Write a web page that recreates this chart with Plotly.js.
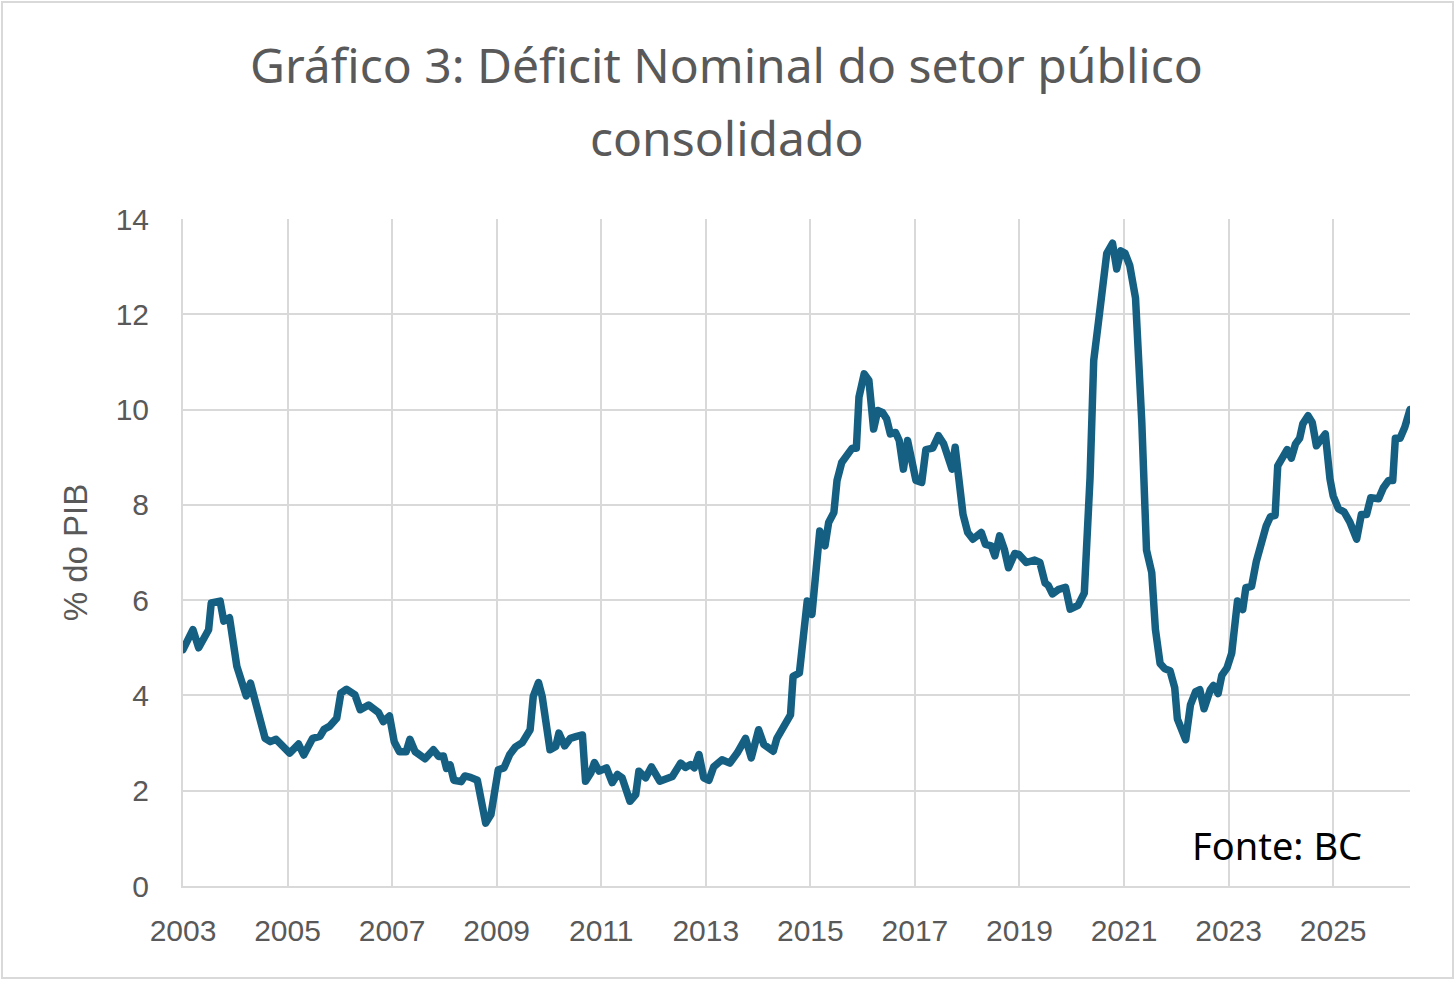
<!DOCTYPE html>
<html>
<head>
<meta charset="utf-8">
<script src="https://cdn.plot.ly/plotly-3.0.1.min.js"></script>
<style>
    html, body { margin: 0; padding: 0; background: #ffffff; }
    #moldura { position: relative; width: 1456px; height: 981px; }
    #moldura::after {
        content: ""; position: absolute; left: 1px; top: 1px; right: 2px; bottom: 2px;
        border: 2px solid #d9d9d9; pointer-events: none;
    }
    #grafico { width: 1456px; height: 981px; }
    .js-line { stroke-linejoin: round; stroke-linecap: round; }
</style>
</head>
<body>
<div id="moldura"><div id="grafico"></div></div>
<script>
// Déficit nominal do setor público consolidado (% do PIB)
const anos = [
    2003.00, 2003.19, 2003.30, 2003.49, 2003.54, 2003.71, 2003.78, 2003.89,
    2004.03, 2004.21, 2004.29, 2004.57, 2004.67, 2004.78,
    2005.04, 2005.21, 2005.31, 2005.48, 2005.62, 2005.70, 2005.80, 2005.94,
    2006.02, 2006.13, 2006.29, 2006.39, 2006.55, 2006.74, 2006.83, 2006.95,
    2007.04, 2007.14, 2007.27, 2007.34, 2007.44, 2007.63, 2007.79, 2007.89, 2007.98,
    2008.04, 2008.11, 2008.18, 2008.32, 2008.39, 2008.50, 2008.63, 2008.79, 2008.89,
    2009.03, 2009.14, 2009.25, 2009.36, 2009.49, 2009.64, 2009.70, 2009.80, 2009.87,
    2010.02, 2010.13, 2010.19, 2010.30, 2010.41, 2010.53, 2010.64, 2010.70, 2010.80, 2010.87, 2010.96,
    2011.10, 2011.21, 2011.31, 2011.40, 2011.55, 2011.66, 2011.72, 2011.85, 2011.96,
    2012.12, 2012.36, 2012.52, 2012.61, 2012.71, 2012.78, 2012.87, 2012.96,
    2013.06, 2013.15, 2013.31, 2013.46, 2013.60, 2013.76, 2013.87,
    2014.01, 2014.11, 2014.29, 2014.36, 2014.62, 2014.67, 2014.79, 2014.94,
    2015.03, 2015.18, 2015.28, 2015.35, 2015.45, 2015.51, 2015.60, 2015.71, 2015.80, 2015.88, 2015.93,
    2016.03, 2016.12, 2016.21, 2016.29, 2016.38, 2016.46, 2016.53, 2016.63, 2016.70, 2016.78, 2016.86, 2016.92,
    2017.02, 2017.13, 2017.21, 2017.34, 2017.45, 2017.55, 2017.63, 2017.71, 2017.77, 2017.85, 2017.92,
    2018.01, 2018.11, 2018.27, 2018.35, 2018.46, 2018.53, 2018.62, 2018.71, 2018.79, 2018.91, 2018.99,
    2019.13, 2019.29, 2019.39, 2019.49, 2019.55, 2019.63, 2019.74, 2019.88, 2019.97,
    2020.12, 2020.24, 2020.35, 2020.42, 2020.51, 2020.67, 2020.78, 2020.86, 2020.94,
    2021.02, 2021.11, 2021.22, 2021.34, 2021.43, 2021.53, 2021.60, 2021.69, 2021.78, 2021.88, 2021.97,
    2022.02, 2022.18, 2022.27, 2022.37, 2022.45, 2022.53, 2022.65, 2022.71, 2022.80, 2022.87, 2022.97,
    2023.06, 2023.17, 2023.27, 2023.33, 2023.44, 2023.53, 2023.62, 2023.72, 2023.80, 2023.89, 2023.94,
    2024.02, 2024.12, 2024.20, 2024.28, 2024.36, 2024.42, 2024.52, 2024.60, 2024.68, 2024.76, 2024.85, 2024.94,
    2025.00, 2025.10, 2025.21, 2025.32, 2025.38, 2025.45, 2025.54, 2025.64, 2025.72, 2025.87, 2025.96,
    2026.06, 2026.14, 2026.19, 2026.28, 2026.37, 2026.47
];

const deficit = [
    4.96, 5.38, 5.00, 5.38, 5.94, 5.98, 5.56, 5.63,
    4.61, 3.99, 4.26, 3.10, 3.03, 3.08,
    2.79, 2.98, 2.75, 3.10, 3.14, 3.29, 3.35, 3.52,
    4.05, 4.13, 4.01, 3.70, 3.80, 3.64, 3.45, 3.57,
    3.03, 2.82, 2.82, 3.08, 2.82, 2.67, 2.86, 2.72, 2.73,
    2.47, 2.54, 2.22, 2.19, 2.31, 2.28, 2.22, 1.32, 1.50,
    2.44, 2.48, 2.76, 2.92, 3.01, 3.28, 3.98, 4.27, 3.98,
    2.86, 2.93, 3.21, 2.94, 3.10, 3.14, 3.17, 2.20, 2.37, 2.59, 2.41,
    2.48, 2.17, 2.34, 2.27, 1.78, 1.92, 2.41, 2.27, 2.50,
    2.20, 2.30, 2.58, 2.49, 2.55, 2.48, 2.76, 2.27,
    2.22, 2.50, 2.65, 2.58, 2.79, 3.10, 2.69,
    3.28, 2.97, 2.83, 3.10, 3.59, 4.40, 4.47, 5.98,
    5.70, 7.45, 7.14, 7.63, 7.84, 8.51, 8.89, 9.03, 9.19, 9.19, 10.26,
    10.75, 10.61, 9.59, 9.98, 9.94, 9.80, 9.49, 9.52, 9.35, 8.75, 9.35, 9.03,
    8.51, 8.47, 9.16, 9.19, 9.45, 9.28, 8.96, 8.75, 9.21, 8.40, 7.80,
    7.42, 7.28, 7.42, 7.17, 7.14, 6.93, 7.35, 7.07, 6.68, 6.98, 6.96,
    6.79, 6.84, 6.79, 6.36, 6.31, 6.13, 6.22, 6.27, 5.81,
    5.89, 6.15, 8.57, 11.03, 11.83, 13.28, 13.49, 12.95, 13.33,
    13.28, 13.02, 12.34, 9.73, 7.05, 6.58, 5.39, 4.67, 4.56, 4.52, 4.16,
    3.51, 3.07, 3.80, 4.08, 4.12, 3.72, 4.12, 4.21, 4.04, 4.42, 4.58,
    4.89, 5.98, 5.80, 6.26, 6.29, 6.81, 7.25, 7.56, 7.75, 7.78, 8.82,
    9.00, 9.16, 8.98, 9.28, 9.40, 9.70, 9.87, 9.73, 9.24, 9.35, 9.49, 8.54,
    8.19, 7.92, 7.85, 7.64, 7.49, 7.28, 7.80, 7.80, 8.15, 8.13, 8.36,
    8.51, 8.51, 9.40, 9.40, 9.63, 10.00
];

const tituloLinhas = ['Gráfico 3: Déficit Nominal do setor público', 'consolidado'];
const fonte = 'Fonte: BC';

const corLinha = '#156082';
const corGrade = '#d9d9d9';
const corTexto = '#595959';
const fonteTitulo = 'Noto Sans, Open Sans, sans-serif';
const fonteEixos = 'Liberation Sans, Arial, sans-serif';

const trace = {
    type: 'scatter',
    mode: 'lines',
    x: anos,
    y: deficit,
    line: { color: corLinha, width: 7.5 },
    hoverinfo: 'skip',
    showlegend: false
};

// títulos como anotações para controlar o espaçamento entre linhas
const anotacoes = tituloLinhas.map((txt, i) => ({
    text: txt,
    xref: 'paper', yref: 'paper',
    x: 0.443, y: [1.2309, 1.1229][i],
    xanchor: 'center', yanchor: 'middle',
    showarrow: false,
    font: { family: fonteTitulo, size: 48, color: corTexto }
}));

anotacoes.push({
    text: fonte,
    xref: 'paper', yref: 'paper',
    x: 0.821, y: 0.0615,
    xanchor: 'left', yanchor: 'middle',
    showarrow: false,
    font: { family: fonteTitulo, size: 38, color: '#000000' }
});

const layout = {
    width: 1456,
    height: 981,
    margin: { l: 183, r: 46, t: 219, b: 95 },
    paper_bgcolor: '#ffffff',
    plot_bgcolor: '#ffffff',
    showlegend: false,
    hovermode: false,
    xaxis: {
        range: [2003, 2026.47],
        tick0: 2003,
        dtick: 2,
        tickformat: 'd',
        showgrid: true,
        gridcolor: corGrade,
        gridwidth: 2,
        zeroline: false,
        showline: true,
        linecolor: corGrade,
        linewidth: 2,
        ticks: '',
        ticklabelstandoff: 17,
        tickfont: { family: fonteEixos, size: 30, color: corTexto }
    },
    yaxis: {
        range: [0, 14],
        dtick: 2,
        showgrid: true,
        gridcolor: corGrade,
        gridwidth: 2,
        zeroline: false,
        showline: true,
        linecolor: corGrade,
        linewidth: 2,
        ticks: '',
        ticklabelstandoff: 26,
        tickfont: { family: fonteEixos, size: 30, color: corTexto },
        title: {
            text: '% do PIB',
            standoff: 18,
            font: { family: fonteEixos, size: 33, color: corTexto }
        }
    },
    annotations: anotacoes
};

Plotly.newPlot('grafico', [trace], layout, { displayModeBar: false, staticPlot: true });
</script>
</body>
</html>
